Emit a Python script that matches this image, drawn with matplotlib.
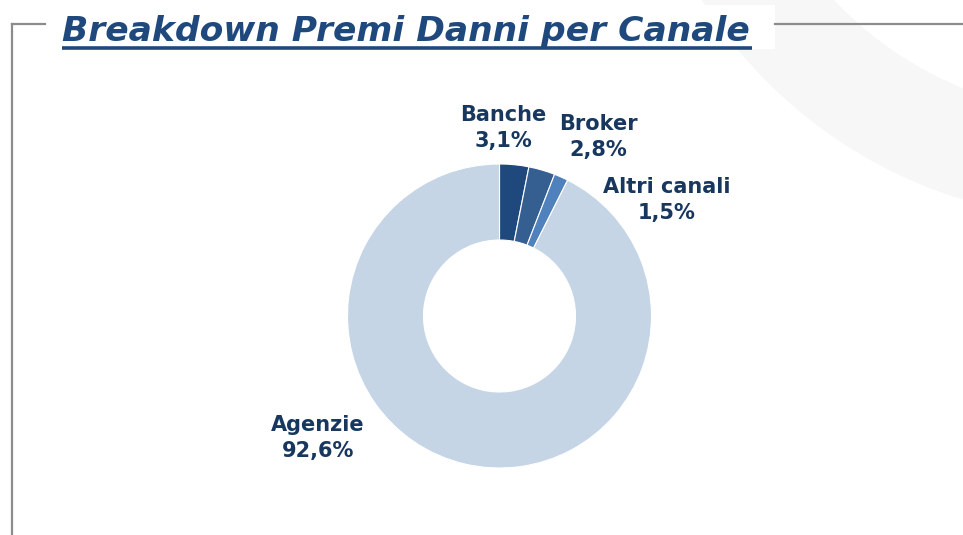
import matplotlib.pyplot as plt
from matplotlib.patches import Wedge, Rectangle

# data
canali = ['Banche', 'Broker', 'Altri canali', 'Agenzie']
quote = [3.1, 2.8, 1.5, 92.6]
etichette = ['3,1%', '2,8%', '1,5%', '92,6%']
colori = ['#1f497d', '#365f91', '#4f81bd', '#c5d5e5']

# label centres in screen pixels (x, y from top)
pos_label = [(503, 128), (598, 137), (667, 200), (318, 438)]

W, H = 963, 535
fig = plt.figure(figsize=(W / 100, H / 100), dpi=100)

# background / frame axes, pixel coordinates, y from top
bg = fig.add_axes([0, 0, 1, 1])
bg.set_xlim(0, W)
bg.set_ylim(H, 0)
bg.axis('off')

# faint decorative ring in the top right
bg.add_patch(Wedge((1100, -250), 470, 0, 360, width=105, color='#f7f7f8', lw=0))

# frame lines
bg.plot([12, 12], [24, H], color='#8c8c8c', lw=1.6)
bg.plot([12, 45], [24, 24], color='#8c8c8c', lw=1.6)
bg.plot([775, W], [24, 24], color='#8c8c8c', lw=1.6)

# title box and title (fit to the width of the original)
bg.add_patch(Rectangle((45, 5), 730, 44, color='white', lw=0))
titolo = bg.text(62, 41, 'Breakdown Premi Danni per Canale', fontsize=24,
                 family='DejaVu Sans', fontweight='bold', style='italic',
                 color='#1f497d', ha='left', va='baseline')
fig.canvas.draw()
bb = titolo.get_window_extent()
titolo.set_fontsize(24 * 688 / bb.width)
fig.canvas.draw()
bb = titolo.get_window_extent()
bg.plot([62, bb.x1 + 2], [47.5, 47.5], color='#1f497d', lw=2.6, solid_capstyle='butt')

# donut
ax = fig.add_axes([0, 0, 1, 1])
ax.pie(quote, colors=colori, startangle=90, counterclock=False,
       center=(499.5, H - 316), radius=152,
       wedgeprops=dict(width=76, edgecolor='white', linewidth=0.8))
ax.set_xlim(0, W)
ax.set_ylim(0, H)
ax.set_aspect('equal')
ax.axis('off')

for nome, pct, (x, y) in zip(canali, etichette, pos_label):
    ax.text(x, H - y, nome + '\n' + pct, ha='center', va='center',
            fontsize=15, fontweight='bold', color='#17375e', linespacing=1.4,
            family='DejaVu Sans')

fig.savefig('out.png', dpi=100)
